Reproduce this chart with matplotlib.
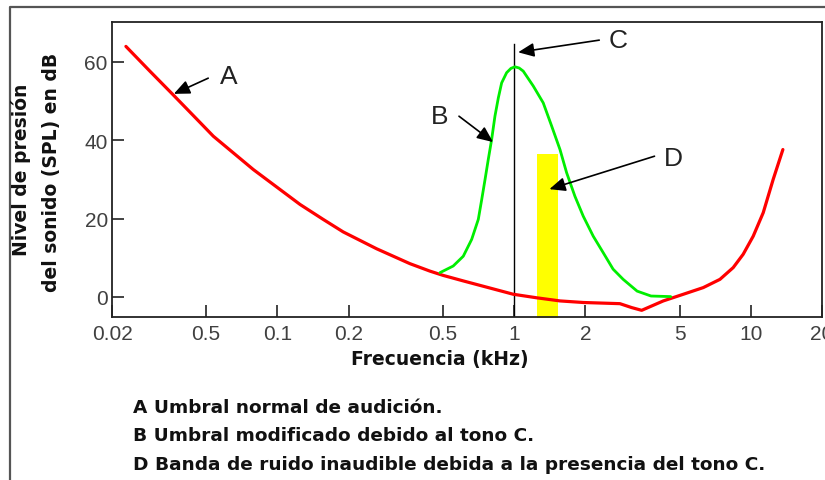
import matplotlib
matplotlib.use("Agg")
import matplotlib.pyplot as plt
from matplotlib.lines import Line2D

# ---------------- data ----------------
red_freq = [0.0229, 0.0289, 0.0362, 0.0471, 0.0536, 0.0791, 0.1246, 0.156, 0.1896,
            0.2625, 0.363, 0.441, 0.502, 0.610, 0.992, 1.245, 1.563, 1.96, 2.80,
            3.14, 3.46, 3.81, 4.27, 5.19, 6.30, 7.41, 8.43, 9.29, 10.24, 11.29,
            12.44, 13.67]
red_db = [63.9, 57.6, 51.6, 44.5, 41.0, 32.5, 23.6, 19.8, 16.6,
          12.3, 8.5, 6.6, 5.5, 4.1, 0.7, -0.2, -1.0, -1.4, -1.7,
          -2.7, -3.4, -2.3, -1.0, 0.7, 2.4, 4.5, 7.5, 10.9, 15.5, 21.5,
          30.0, 37.6]

green_freq = [0.486, 0.553, 0.610, 0.662, 0.706, 0.730, 0.754, 0.778, 0.804, 0.830,
              0.858, 0.886, 0.930, 0.970, 1.008, 1.050, 1.093, 1.205, 1.328, 1.441,
              1.563, 1.667, 1.807, 1.96, 2.16, 2.38, 2.62, 2.89, 3.31, 3.79, 4.59]
green_db = [6.2, 7.9, 10.4, 14.7, 19.8, 24.9, 30.0, 35.1, 40.2, 46.1,
            50.8, 54.6, 57.2, 58.3, 58.7, 58.4, 57.6, 53.8, 49.5, 43.6,
            37.6, 31.7, 25.7, 20.6, 15.5, 11.3, 7.1, 4.5, 1.5, 0.25, 0.1]

tone_freq = 1.0
tone_top = 64.4

noise_band = (1.245, 1.54)
noise_top = 36.4

xticks = [0.02, 0.05, 0.1, 0.2, 0.5, 1, 2, 5, 10, 20]
xtick_labels = ['0.02', '0.5', '0.1', '0.2', '0.5', '1', '2', '5', '10', '20']
yticks = [0, 20, 40, 60]

labels = ['A', 'B', 'C', 'D']
label_pos = [(0.062, 56.3), (0.486, 46.1), (2.76, 65.5), (4.72, 35.4)]
arrow_tail = [(0.051, 55.8), (0.585, 46.1), (2.29, 65.5), (3.92, 35.9)]
arrow_head = [(0.0365, 51.8), (0.815, 39.5), (1.04, 62.4), (1.41, 27.5)]

xlabel = 'Frecuencia (kHz)'
ylabel_lines = ['Nivel de presión', 'del sonido (SPL) en dB']
legend_lines = ['A Umbral normal de audición.',
                'B Umbral modificado debido al tono C.',
                'D Banda de ruido inaudible debida a la presencia del tono C.']

# ---------------- figure ----------------
W, H = 825, 481
fig = plt.figure(figsize=(W / 100, H / 100), dpi=100)
fig.patch.set_facecolor('white')

def fx(px):
    return px / W

def fy(py):
    return 1 - py / H

ax = fig.add_axes([fx(112), fy(318), (822 - 112) / W, (318 - 22.7) / H])
ax.set_xscale('log')
ax.set_xlim(0.02, 20)
ax.set_ylim(-5.1, 70.2)

ax.fill_between(list(noise_band), [-10, -10], [noise_top, noise_top],
                color='#ffff00', lw=0, zorder=1)
ax.plot([tone_freq, tone_freq], [-10, tone_top], color='black', lw=1.0, zorder=2)
ax.plot(red_freq, red_db, color='#ff0000', lw=2.3, zorder=3,
        solid_capstyle='round', solid_joinstyle='round')
ax.plot(green_freq, green_db, color='#00ee00', lw=2.0, zorder=3,
        solid_capstyle='round', solid_joinstyle='round')

ax.set_xticks(xticks)
ax.set_xticklabels(xtick_labels)
ax.minorticks_off()
ax.set_yticks(yticks)
ax.tick_params(axis='both', direction='in', length=8.5, width=1.2, color='#222222',
               labelsize=15, labelcolor='#404040')
ax.tick_params(axis='x', pad=5)
ax.tick_params(axis='y', pad=3)
for lab in ax.get_xticklabels() + ax.get_yticklabels():
    lab.set_fontfamily('Liberation Sans')
for sp in ax.spines.values():
    sp.set_linewidth(1.3)
    sp.set_color('#222222')

for lab, pos, tail, head in zip(labels, label_pos, arrow_tail, arrow_head):
    ax.text(pos[0], pos[1], lab, fontsize=19, family='Liberation Sans',
            color='#222222', ha='center', va='center')
    ax.annotate('', xy=head, xytext=tail,
                arrowprops=dict(arrowstyle='-|>,head_length=0.8,head_width=0.35',
                                color='black', lw=1.2, shrinkA=0, shrinkB=0,
                                mutation_scale=12))

# labels
bold = dict(fontsize=13.5, fontweight='bold', family='DejaVu Sans', color='#111111')
fig.text(fx(440), fy(360), xlabel, ha='center', va='center', **bold)
fig.text(fx(21), fy(170), ylabel_lines[0], ha='center', va='center', rotation=90, **bold)
fig.text(fx(52), fy(172), ylabel_lines[1], ha='center', va='center', rotation=90, **bold)

legend_style = dict(bold, fontsize=13.3)
for i, line in enumerate(legend_lines):
    fig.text(fx(133), fy(408 + 28.5 * i), line, ha='left', va='center', **legend_style)

# outer frame
fig.add_artist(Line2D([fx(10), fx(10), fx(826)], [fy(482), fy(8), fy(8)],
                      transform=fig.transFigure, color='#555555', lw=1.6))

fig.savefig('out.png', dpi=100)
